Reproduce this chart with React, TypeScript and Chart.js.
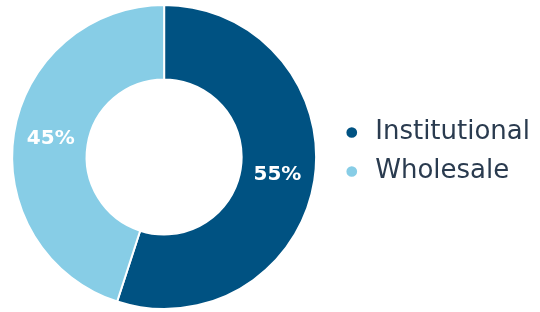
import React, { useEffect, useRef } from "react";
import { Chart, registerables } from "chart.js";

Chart.register(...registerables);

const categories = ["Institutional", "Wholesale"];
const values = [55, 45];
const colors = ["#005282", "#87CDE6"];

const labelPlugin = {
  id: "sliceLabels",
  afterDatasetsDraw(chart: any) {
    const ctx = chart.ctx;
    const meta = chart.getDatasetMeta(0);
    const total = values.reduce((a, b) => a + b, 0);
    ctx.save();
    ctx.fillStyle = "#ffffff";
    ctx.font = "bold 20px 'DejaVu Sans'";
    ctx.textAlign = "center";
    ctx.textBaseline = "middle";
    meta.data.forEach((arc: any, i: number) => {
      const p = arc.tooltipPosition();
      ctx.fillText(Math.round((values[i] / total) * 100) + "%", p.x, p.y);
    });
    ctx.restore();
  },
};

const legendShift = {
  id: "legendShift",
  afterLayout(chart: any) {
    const lg = chart.legend;
    if (lg) {
      lg.top -= 5;
      lg.bottom -= 5;
    }
  },
};

export default function App() {
  const ref = useRef<HTMLCanvasElement>(null);
  useEffect(() => {
    const chart = new Chart(ref.current!, {
      type: "doughnut",
      data: {
        labels: categories,
        datasets: [
          {
            data: values,
            backgroundColor: colors,
            borderColor: "#ffffff",
            borderWidth: 2,
          },
        ],
      },
      options: {
        animation: false,
        responsive: true,
        maintainAspectRatio: false,
        cutout: "51%",
        layout: { padding: { top: 4, bottom: 2, left: 0, right: 0 } },
        plugins: {
          tooltip: { enabled: false },
          legend: {
            position: "right",
            labels: {
              usePointStyle: true,
              pointStyle: "circle",
              boxWidth: 21,
              boxHeight: 9,
              padding: 13,
              color: "#2A3B4F",
              font: { family: "'DejaVu Sans'", size: 26, weight: "normal" },
            },
          },
        },
      },
      plugins: [labelPlugin, legendShift],
    });
    return () => chart.destroy();
  }, []);
  return (
    <div style={{ position: "absolute", left: 0, top: 0, width: 540, height: 312, background: "#fff" }}>
      <canvas ref={ref} />
    </div>
  );
}
